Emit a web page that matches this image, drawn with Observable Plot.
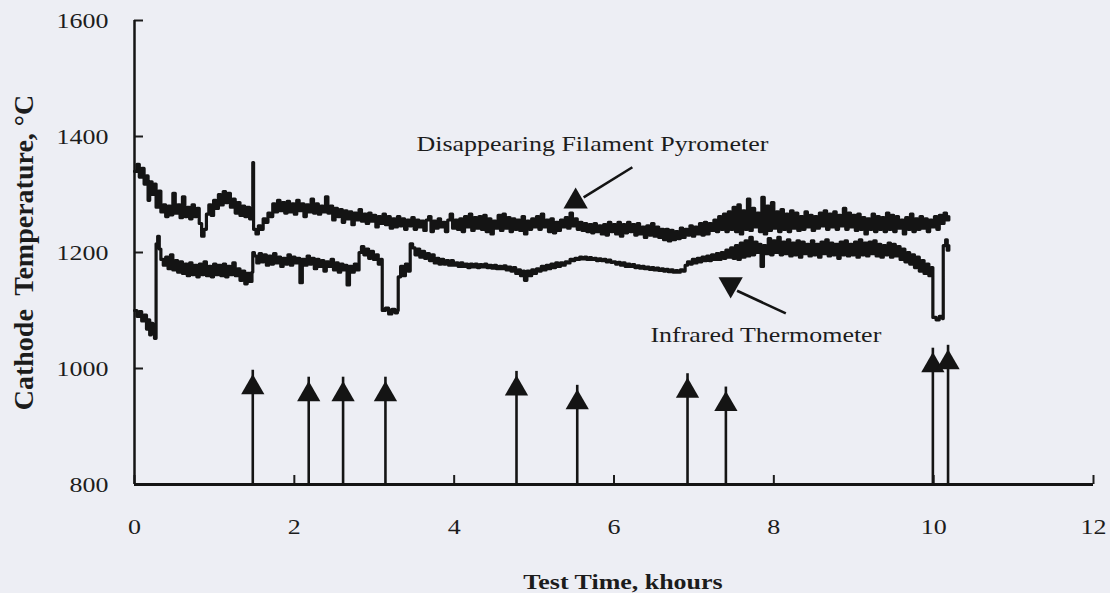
<!DOCTYPE html>
<html><head><meta charset="utf-8">
<script src="https://cdn.jsdelivr.net/npm/d3@7"></script>
<script src="https://cdn.jsdelivr.net/npm/@observablehq/plot@0.6"></script>
<style>
html,body{margin:0;padding:0;background:#edeef4;}
#chart{width:1110px;height:593px;}
#chart svg, #chart svg text{font-family:"Liberation Serif","Times New Roman",serif !important;}
svg text{white-space:pre;}
</style></head><body><div id="chart"></div>
<script>
// Disappearing Filament Pyrometer: [time khours, temperature °C]
const pyrometer = [
[0.00,1340],[0.03,1352],[0.06,1330],[0.09,1345],[0.12,1318],[0.15,1332],[0.17,1290],[0.19,1322],[0.22,1300],[0.25,1318],
[0.27,1278],[0.30,1306],[0.33,1270],[0.36,1282],[0.39,1262],[0.42,1280],[0.45,1265],[0.48,1302],[0.51,1268],[0.54,1282],
[0.57,1260],[0.60,1296],[0.63,1262],[0.66,1278],[0.69,1258],[0.72,1282],[0.75,1262],[0.78,1276],[0.81,1250],[0.84,1228],
[0.87,1240],[0.90,1266],[0.93,1282],[0.96,1264],[0.99,1290],[1.02,1276],[1.05,1300],[1.08,1282],[1.11,1305],[1.14,1286],
[1.17,1302],[1.20,1278],[1.23,1292],[1.26,1268],[1.29,1286],[1.32,1264],[1.35,1280],[1.38,1262],[1.41,1278],[1.44,1258],
[1.47,1272],[1.48,1355],[1.49,1240],[1.52,1232],[1.55,1246],[1.58,1240],[1.61,1258],[1.64,1252],[1.67,1268],[1.70,1262],
[1.73,1284],[1.76,1270],[1.79,1290],[1.82,1272],[1.85,1286],[1.88,1268],[1.91,1288],[1.94,1270],[1.97,1284],[2.00,1266],
[2.03,1290],[2.06,1272],[2.09,1284],[2.12,1262],[2.15,1282],[2.18,1270],[2.21,1292],[2.24,1268],[2.27,1284],[2.30,1266],
[2.33,1280],[2.36,1270],[2.39,1296],[2.42,1268],[2.45,1280],[2.48,1256],[2.51,1276],[2.54,1262],[2.57,1274],[2.60,1252],
[2.63,1272],[2.66,1258],[2.69,1270],[2.72,1248],[2.75,1268],[2.78,1256],[2.81,1274],[2.84,1254],[2.87,1266],[2.90,1250],
[2.93,1268],[2.96,1254],[2.99,1264],[3.02,1244],[3.05,1262],[3.08,1250],[3.11,1266],[3.14,1248],[3.17,1262],[3.20,1242],
[3.23,1258],[3.26,1244],[3.29,1262],[3.32,1246],[3.35,1258],[3.38,1240],[3.41,1256],[3.44,1246],[3.47,1260],[3.50,1240],
[3.53,1256],[3.56,1244],[3.59,1254],[3.62,1238],[3.65,1256],[3.68,1262],[3.71,1236],[3.74,1254],[3.77,1242],[3.80,1258],
[3.83,1244],[3.86,1252],[3.89,1236],[3.92,1256],[3.95,1266],[3.98,1242],[4.01,1256],[4.04,1240],[4.07,1258],[4.10,1236],
[4.13,1262],[4.16,1244],[4.19,1266],[4.22,1238],[4.25,1260],[4.28,1242],[4.31,1262],[4.34,1240],[4.37,1264],[4.40,1236],
[4.43,1258],[4.46,1232],[4.49,1254],[4.52,1242],[4.55,1264],[4.58,1238],[4.61,1266],[4.64,1242],[4.67,1260],[4.70,1236],
[4.73,1258],[4.76,1240],[4.79,1256],[4.82,1238],[4.85,1262],[4.88,1232],[4.91,1254],[4.94,1240],[4.97,1258],[5.00,1244],
[5.03,1262],[5.06,1240],[5.09,1266],[5.12,1244],[5.15,1256],[5.18,1236],[5.21,1258],[5.24,1234],[5.27,1252],[5.30,1238],
[5.33,1256],[5.36,1244],[5.39,1260],[5.42,1242],[5.45,1268],[5.48,1246],[5.51,1258],[5.54,1240],[5.57,1252],[5.60,1238],
[5.63,1250],[5.66,1236],[5.69,1248],[5.72,1234],[5.75,1250],[5.78,1236],[5.81,1246],[5.84,1232],[5.87,1248],[5.90,1230],
[5.93,1252],[5.96,1236],[5.99,1248],[6.02,1232],[6.05,1252],[6.08,1228],[6.11,1248],[6.14,1234],[6.17,1252],[6.20,1236],
[6.23,1248],[6.26,1230],[6.29,1250],[6.32,1232],[6.35,1244],[6.38,1226],[6.41,1246],[6.44,1230],[6.47,1250],[6.50,1228],
[6.53,1244],[6.56,1226],[6.59,1240],[6.62,1222],[6.65,1240],[6.68,1220],[6.71,1238],[6.74,1222],[6.77,1236],[6.80,1224],
[6.83,1242],[6.86,1226],[6.89,1240],[6.92,1230],[6.95,1246],[6.98,1228],[7.01,1244],[7.04,1232],[7.07,1250],[7.10,1230],
[7.13,1252],[7.16,1232],[7.19,1250],[7.22,1238],[7.25,1256],[7.28,1236],[7.31,1262],[7.34,1240],[7.37,1266],[7.40,1236],
[7.43,1270],[7.46,1240],[7.49,1278],[7.52,1236],[7.55,1282],[7.58,1232],[7.61,1272],[7.64,1240],[7.67,1292],[7.70,1238],
[7.73,1276],[7.76,1244],[7.79,1268],[7.82,1236],[7.85,1295],[7.88,1232],[7.91,1280],[7.94,1238],[7.97,1286],[8.00,1242],
[8.03,1270],[8.06,1236],[8.09,1274],[8.12,1240],[8.15,1266],[8.18,1236],[8.21,1272],[8.24,1242],[8.27,1268],[8.30,1238],
[8.33,1262],[8.36,1240],[8.39,1270],[8.42,1244],[8.45,1264],[8.48,1238],[8.51,1262],[8.54,1242],[8.57,1268],[8.60,1246],
[8.63,1272],[8.66,1240],[8.69,1266],[8.72,1244],[8.75,1270],[8.78,1240],[8.81,1264],[8.84,1246],[8.87,1276],[8.90,1240],
[8.93,1268],[8.96,1244],[8.99,1264],[9.02,1238],[9.05,1266],[9.08,1240],[9.11,1260],[9.14,1232],[9.17,1258],[9.20,1240],
[9.23,1266],[9.26,1236],[9.29,1262],[9.32,1240],[9.35,1260],[9.38,1236],[9.41,1268],[9.44,1240],[9.47,1264],[9.50,1236],
[9.53,1262],[9.56,1242],[9.59,1256],[9.62,1232],[9.65,1260],[9.68,1240],[9.71,1266],[9.74,1236],[9.77,1258],[9.80,1240],
[9.83,1262],[9.86,1242],[9.89,1258],[9.92,1236],[9.95,1256],[9.98,1244],[10.01,1262],[10.04,1240],[10.07,1264],[10.10,1250],
[10.13,1268],[10.16,1256],[10.19,1262]
];
// Infrared Thermometer: [time khours, temperature °C]
const infrared = [
[0.00,1100],[0.03,1090],[0.06,1098],[0.09,1082],[0.12,1092],[0.15,1068],[0.17,1084],[0.19,1058],[0.21,1078],[0.23,1062],
[0.25,1052],[0.27,1215],[0.29,1228],[0.31,1206],[0.33,1188],[0.36,1178],[0.39,1192],[0.42,1172],[0.45,1196],[0.48,1170],
[0.51,1186],[0.54,1166],[0.57,1184],[0.60,1164],[0.63,1180],[0.66,1160],[0.69,1182],[0.72,1162],[0.75,1178],[0.78,1158],
[0.81,1180],[0.84,1162],[0.87,1184],[0.90,1160],[0.93,1176],[0.96,1158],[0.99,1180],[1.02,1162],[1.05,1178],[1.08,1160],
[1.11,1180],[1.14,1158],[1.17,1176],[1.20,1162],[1.23,1182],[1.26,1160],[1.29,1172],[1.32,1152],[1.35,1168],[1.38,1146],
[1.41,1164],[1.44,1150],[1.47,1166],[1.48,1200],[1.50,1194],[1.53,1182],[1.56,1198],[1.59,1184],[1.62,1196],[1.65,1178],
[1.68,1194],[1.71,1180],[1.74,1198],[1.77,1182],[1.80,1192],[1.83,1176],[1.86,1190],[1.89,1180],[1.92,1196],[1.95,1178],
[1.98,1192],[2.01,1182],[2.04,1190],[2.07,1148],[2.10,1188],[2.13,1178],[2.16,1194],[2.19,1180],[2.22,1190],[2.25,1172],
[2.28,1188],[2.31,1176],[2.34,1186],[2.37,1168],[2.40,1184],[2.43,1176],[2.46,1188],[2.49,1170],[2.52,1182],[2.55,1166],
[2.58,1180],[2.61,1170],[2.64,1178],[2.66,1144],[2.69,1176],[2.72,1166],[2.75,1180],[2.78,1170],[2.81,1200],[2.84,1210],
[2.87,1196],[2.90,1206],[2.93,1190],[2.96,1202],[2.99,1188],[3.02,1196],[3.05,1180],[3.08,1188],[3.10,1100],[3.14,1104],
[3.18,1094],[3.22,1102],[3.26,1096],[3.29,1100],[3.30,1158],[3.33,1176],[3.36,1160],[3.39,1180],[3.42,1168],[3.45,1215],
[3.48,1208],[3.51,1196],[3.54,1206],[3.57,1192],[3.60,1202],[3.63,1190],[3.66,1198],[3.69,1186],[3.72,1196],[3.75,1182],
[3.78,1190],[3.81,1180],[3.84,1188],[3.87,1180],[3.90,1186],[3.93,1178],[3.96,1186],[3.99,1178],[4.02,1182],[4.05,1176],
[4.08,1182],[4.11,1176],[4.14,1180],[4.17,1174],[4.20,1180],[4.23,1175],[4.26,1180],[4.29,1174],[4.32,1179],[4.35,1175],
[4.38,1180],[4.41,1174],[4.44,1178],[4.47,1173],[4.50,1178],[4.53,1172],[4.56,1176],[4.59,1172],[4.62,1177],[4.65,1170],
[4.68,1175],[4.71,1168],[4.74,1174],[4.77,1164],[4.80,1170],[4.83,1160],[4.86,1168],[4.88,1152],[4.91,1168],[4.94,1160],
[4.97,1170],[5.00,1164],[5.03,1172],[5.06,1168],[5.09,1176],[5.12,1170],[5.15,1178],[5.18,1172],[5.21,1180],[5.24,1174],
[5.27,1182],[5.30,1176],[5.33,1182],[5.36,1178],[5.39,1184],[5.42,1182],[5.45,1188],[5.48,1186],[5.51,1190],[5.54,1188],
[5.57,1192],[5.60,1189],[5.63,1192],[5.66,1188],[5.69,1191],[5.72,1188],[5.75,1190],[5.78,1186],[5.81,1189],[5.84,1186],
[5.87,1188],[5.90,1184],[5.93,1187],[5.96,1183],[5.99,1184],[6.02,1180],[6.05,1183],[6.08,1178],[6.11,1182],[6.14,1176],
[6.17,1180],[6.20,1176],[6.23,1179],[6.26,1174],[6.29,1177],[6.32,1173],[6.35,1176],[6.38,1172],[6.41,1175],[6.44,1171],
[6.47,1174],[6.50,1170],[6.53,1173],[6.56,1169],[6.59,1172],[6.62,1168],[6.65,1171],[6.68,1167],[6.71,1170],[6.74,1166],
[6.77,1169],[6.80,1166],[6.83,1170],[6.86,1168],[6.89,1178],[6.92,1184],[6.95,1180],[6.98,1188],[7.01,1182],[7.04,1190],
[7.07,1184],[7.10,1192],[7.13,1186],[7.16,1194],[7.19,1186],[7.22,1196],[7.25,1188],[7.28,1198],[7.31,1188],[7.34,1200],
[7.37,1190],[7.40,1204],[7.43,1192],[7.46,1208],[7.49,1190],[7.52,1212],[7.55,1188],[7.58,1216],[7.61,1192],[7.64,1220],
[7.67,1194],[7.70,1226],[7.73,1196],[7.76,1218],[7.79,1200],[7.82,1214],[7.84,1176],[7.87,1212],[7.90,1198],[7.93,1224],
[7.96,1196],[7.99,1220],[8.02,1200],[8.05,1226],[8.08,1196],[8.11,1218],[8.14,1198],[8.17,1222],[8.20,1194],[8.23,1216],
[8.26,1196],[8.29,1220],[8.32,1192],[8.35,1218],[8.38,1198],[8.41,1214],[8.44,1194],[8.47,1220],[8.50,1196],[8.53,1214],
[8.56,1192],[8.59,1218],[8.62,1198],[8.65,1222],[8.68,1194],[8.71,1216],[8.74,1196],[8.77,1214],[8.80,1190],[8.83,1218],
[8.86,1196],[8.89,1220],[8.92,1194],[8.95,1214],[8.98,1196],[9.01,1218],[9.04,1192],[9.07,1222],[9.10,1196],[9.13,1216],
[9.16,1194],[9.19,1218],[9.22,1198],[9.25,1220],[9.28,1194],[9.31,1214],[9.34,1192],[9.37,1212],[9.40,1196],[9.43,1216],
[9.46,1192],[9.49,1214],[9.52,1194],[9.55,1210],[9.58,1188],[9.61,1206],[9.64,1184],[9.67,1200],[9.70,1180],[9.73,1196],
[9.76,1174],[9.79,1192],[9.82,1168],[9.85,1186],[9.88,1164],[9.91,1180],[9.94,1160],[9.97,1174],[9.99,1088],[10.03,1084],
[10.07,1090],[10.11,1086],[10.12,1212],[10.15,1222],[10.17,1204],[10.19,1212]
];
// Vertical arrows along the time axis
const arrowTime = [1.48, 2.18, 2.61, 3.14, 4.78, 5.54, 6.92, 7.40, 9.99, 10.18];
const arrowTip  = [997, 985, 985, 985, 995, 971, 991, 968, 1035, 1040];
// Ticks
const xTicks = [0, 2, 4, 6, 8, 10, 12];
const yTicks = [800, 1000, 1200, 1400, 1600];
// Annotations
const labelText = ["Disappearing Filament Pyrometer", "Infrared Thermometer"];
const labelX = [5.73, 7.90];
const labelY = [1388, 1057];
const pointerX1 = [6.23, 8.15];
const pointerY1 = [1347, 1095];
const pointerX2 = [5.62, 7.54];
const pointerY2 = [1295, 1134];
const headX = [5.52, 7.46];
const headY = [1319, 1114];
const headRotate = [0, 180];
const xTitle = "Test Time, khours";
const yTitle = "Cathode\u00a0 Temperature, °C";

const toRows = arr => arr.map(([t, v]) => ({t, v}));
const arrows = arrowTime.map((t, i) => ({t, tip: arrowTip[i]}));
const labels = labelText.map((s, i) => ({s, x: labelX[i], y: labelY[i]}));
const pointers = pointerX1.map((_, i) => ({x1: pointerX1[i], y1: pointerY1[i], x2: pointerX2[i], y2: pointerY2[i]}));
const heads = headX.map((x, i) => ({x, y: headY[i], r: headRotate[i]}));

const ink = "#141414";
const serif = "'Liberation Serif', 'Times New Roman', serif";
const plot = Plot.plot({
  width: 1110, height: 593,
  marginLeft: 134, marginRight: 17, marginTop: 20, marginBottom: 109,
  style: {background: "transparent", fontFamily: serif, fontSize: "22px", color: "#1c1c1c"},
  x: {domain: [0, 12]},
  y: {domain: [800, 1600]},
  marks: [
    Plot.axisX(xTicks, {tickSize: -9, tickPadding: 43, strokeWidth: 2, label: null, tickFormat: d => String(d), fontFamily: serif}),
    Plot.axisY(yTicks, {tickSize: -9, tickPadding: 35, strokeWidth: 2, label: null, tickFormat: d => String(d), fontFamily: serif}),
    Plot.ruleX([0], {stroke: ink, strokeWidth: 2.5}),
    Plot.ruleY([800], {stroke: ink, strokeWidth: 3}),
    Plot.line(toRows(pyrometer), {x: "t", y: "v", curve: "step-after", stroke: ink, strokeWidth: 3.2}),
    Plot.line(toRows(infrared), {x: "t", y: "v", curve: "step-after", stroke: ink, strokeWidth: 3.2}),
    Plot.ruleX(arrows, {x: "t", y1: 800, y2: "tip", stroke: ink, strokeWidth: 2.6}),
    Plot.dot(arrows, {x: "t", y: "tip", symbol: "triangle2", r: 11.1, fill: ink, stroke: "none", dy: 17.3}),
    Plot.link(pointers, {x1: "x1", y1: "y1", x2: "x2", y2: "y2", stroke: ink, strokeWidth: 2.6}),
    Plot.dot(heads.filter(h => h.r === 0), {x: "x", y: "y", symbol: "triangle2", r: 11.6, fill: ink, stroke: "none", dy: 18}),
    Plot.dot(heads.filter(h => h.r !== 0), {x: "x", y: "y", symbol: "triangle2", r: 11.6, rotate: 180, fill: ink, stroke: "none", dy: -18}),
    Plot.text(labels, {x: "x", y: "y", text: "s", fontSize: 22, fill: "#1c1c1c", fontFamily: serif}),
    Plot.text([xTitle], {frameAnchor: "bottom", textAnchor: "middle", dy: 104, dx: 9, fontSize: 22, fontWeight: "bold", fill: "#1c1c1c", fontFamily: serif}),
    Plot.text([yTitle], {frameAnchor: "left", textAnchor: "middle", dx: -110, rotate: -90, fontSize: 28, fontWeight: "bold", fill: "#1c1c1c", fontFamily: serif})
  ]
});
document.getElementById("chart").appendChild(plot);
const STRETCH = 1.18;
plot.querySelectorAll("text").forEach(t => {
  if ((t.getAttribute("transform") || "").includes("rotate")) return;
  const len = t.getComputedTextLength();
  if (len > 0) {
    t.setAttribute("textLength", (len * STRETCH).toFixed(1));
    t.setAttribute("lengthAdjust", "spacingAndGlyphs");
  }
});
</script></body></html>
